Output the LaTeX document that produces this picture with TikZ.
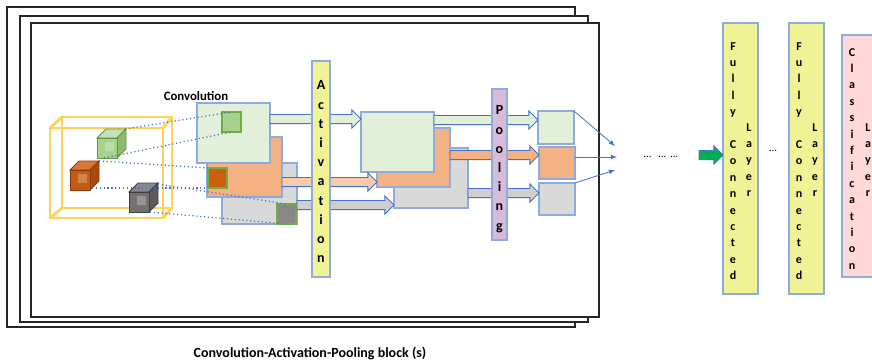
\documentclass[tikz,border=0pt]{standalone}
\usepackage{fontspec}
\setmainfont{Carlito}
\usetikzlibrary{calc}
\usetikzlibrary{fit}

\definecolor{mapedge}{RGB}{143,170,220}
\definecolor{arrowedge}{RGB}{68,114,196}
\definecolor{gmapfill}{RGB}{226,240,217}
\definecolor{omapfill}{RGB}{244,177,131}
\definecolor{oarrowfill}{RGB}{248,203,173}
\definecolor{rmapfill}{RGB}{217,217,217}
\definecolor{rarrowfill}{RGB}{208,206,206}
\definecolor{actfill}{RGB}{240,242,150}
\definecolor{poolfill}{RGB}{214,187,219}
\definecolor{classfill}{RGB}{255,217,217}
\definecolor{fcarrowfill}{RGB}{0,176,80}
\definecolor{wire}{RGB}{255,210,90}
\definecolor{kernedge}{RGB}{112,173,71}
% cube faces
\definecolor{gcubefront}{RGB}{169,209,142}
\definecolor{gcubetop}{RGB}{197,224,180}
\definecolor{gcubeside}{RGB}{141,186,112}
\definecolor{gcubeedge}{RGB}{96,150,62}
\definecolor{ocubefront}{RGB}{197,90,17}
\definecolor{ocubetop}{RGB}{217,119,58}
\definecolor{ocubeside}{RGB}{168,74,12}
\definecolor{ocubeedge}{RGB}{139,58,8}
\definecolor{rcubefront}{RGB}{118,113,113}
\definecolor{rcubetop}{RGB}{140,136,136}
\definecolor{rcubeside}{RGB}{94,90,90}
\definecolor{rcubeedge}{RGB}{63,63,63}

\newcommand{\smallcube}[3]{%
  \draw[draw=#3cubeedge, fill=#3cubetop, line width=0.7pt] (#1,#2) -- ++(9,-9) -- ++(20,0) -- ++(-9,9) -- cycle;
  \draw[draw=#3cubeedge, fill=#3cubeside, line width=0.7pt] (#1+20,#2) -- ++(9,-9) -- ++(0,20) -- ++(-9,9) -- cycle;
  \draw[draw=#3cubeedge, fill=#3cubefront, line width=0.7pt] (#1,#2) rectangle ++(20,20);
  \fill[white, opacity=0.25] (#1+8,#2+4) rectangle ++(9,9);
}
\newcommand{\blockarrow}[3]{%
  \draw[draw=arrowedge, line width=0.7pt, fill=#1] let \p1=#2, \p2=#3 in
    (\x1,\y1-3.4pt) -- (\x2-6.8pt,\y1-3.4pt) -- (\x2-6.8pt,\y1-6.8pt) -- (\x2,\y1)
    -- (\x2-6.8pt,\y1+6.8pt) -- (\x2-6.8pt,\y1+3.4pt) -- (\x1,\y1+3.4pt) -- cycle;
}

\begin{document}
\begin{tikzpicture}[x=0.75pt, y=-0.75pt,
    frame/.style={draw=black!85, line width=1.1pt, fill=white},
    wirecube/.style={draw=wire, line width=2.2pt},
    fmap/.style={draw=mapedge, line width=0.9pt, inner sep=0pt, outer sep=0pt},
    kern/.style={draw=kernedge, line width=0.8pt, inner sep=0pt, outer sep=0pt},
    bar/.style={draw=mapedge, line width=0.9pt, inner sep=0pt, outer sep=0pt},
    vtext/.style={inner sep=0pt, anchor=north, align=center, font=\bfseries\fontsize{10.5}{14.4}\selectfont},
    fctext/.style={vtext, font=\bfseries\fontsize{9}{12.3}\selectfont},
    kline/.style={draw=arrowedge, dotted, line width=0.9pt},
    thinarrow/.style={draw=arrowedge, line width=0.6pt, -latex}]
    \useasboundingbox (0,0) rectangle (872,362);
    \clip (0,0) rectangle (872,362);

    \draw[frame] (7,7) rectangle (575,327);
    \draw[frame] (20,16) rectangle (588,322);
    \draw[frame] (31,23) rectangle (599,317);

    \draw[wirecube] (62,117) rectangle (172,208);
    \draw[wirecube] (50,128) -- (62,117) (163,128) -- (172,117) (163,218) -- (172,208) (50,218) -- (62,208);
    \draw[wirecube] (50,128) rectangle (163,218);
    \smallcube{97}{138}{g}
    \smallcube{70}{170}{o}
    \smallcube{129}{192}{r}
    \coordinate (gcubetop) at (125,129);
    \coordinate (gcubebot) at (104,158);
    \coordinate (ocubetop) at (99,161);
    \coordinate (ocubebot) at (92,188);
    \coordinate (rcubetop) at (158,184);
    \coordinate (rcubebot) at (150,212);

    \node[font=\bfseries\fontsize{9.6}{11}\selectfont] (convlabel) at (196,96) {Convolution};
    \node[fmap, fill=rmapfill, fit={(222,163) (297,224)}] (rconv) {};
    \node[fmap, fill=omapfill, fit={(207,137) (282,197)}] (oconv) {};
    \node[fmap, fill=gmapfill, fit={(197,103) (270,163)}] (gconv) {};
    \node[kern, fill=gcubefront, fit={(222,112) (241,132)}] (gker) {};
    \node[kern, fill=ocubefront!90!orange, fit={(208,168) (227,188)}] (oker) {};
    \node[kern, fill=rcubefront!85!white, fit={(277,204) (296,224)}] (rker) {};

    \draw[kline] (gcubetop) -- (gker.north);
    \draw[kline] (gcubebot) -- (gker.south);
    \draw[kline] (ocubetop) -- (oker.north west);
    \draw[kline] (ocubebot) -- (oker.south west);
    \draw[kline] (rcubetop) -- (rker.north);
    \draw[kline] (rcubebot) -- (rker.south);

    \node[fmap, fill=rmapfill, fit={(394,148) (468,208)}] (ract) {};
    \node[fmap, fill=omapfill, fit={(377,128) (450,187)}] (oact) {};
    \node[fmap, fill=gmapfill, fit={(361,112) (434,172)}] (gact) {};

    \blockarrow{gmapfill}{(gconv.east |- 0,119)}{(gact.west |- 0,119)}
    \blockarrow{oarrowfill}{(oconv.east |- 0,182)}{(oact.west |- 0,182)}
    \blockarrow{rarrowfill}{(rconv.east |- 0,205)}{(ract.west |- 0,205)}

    \node[fmap, fill=gmapfill, fit={(538,111) (574,144)}] (gpool) {};
    \node[fmap, fill=omapfill, fit={(539,147) (575,179)}] (opool) {};
    \node[fmap, fill=rmapfill, fit={(539,183) (575,215)}] (rpool) {};

    \blockarrow{gmapfill}{(gact.east |- 0,120)}{(gpool.west |- 0,120)}
    \blockarrow{omapfill}{(oact.east |- 0,155)}{(opool.west |- 0,155)}
    \blockarrow{rarrowfill}{(ract.east |- 0,193)}{(rpool.west |- 0,193)}

    \node[bar, fill=actfill, fit={(312,61) (330,277)}] (act) {};
    \node[vtext] (acttext) at (321,80.5) {A\\c\\t\\i\\v\\a\\t\\i\\o\\n};
    \node[bar, fill=poolfill, fit={(492,89) (507,240)}] (pool) {};
    \node[vtext] (pooltext) at (499.5,105.5) {P\\o\\o\\l\\i\\n\\g};

    \coordinate (gtip) at (615,146);
    \coordinate (otip) at (617,157);
    \coordinate (rtip) at (615,170);
    \draw[thinarrow] (gpool.north east) -- (gtip);
    \draw[thinarrow] (opool.east |- otip) -- (otip);
    \draw[thinarrow] (rpool.north east) -- (rtip);

    \node[font=\fontsize{8}{9}\selectfont] (dots) at (661,157) {…\ \ \ …\ \ …};

    \node[bar, fill=actfill, fit={(723,23) (758,294)}] (fc1) {};
    \node[fctext] (fc1a) at (733,42) {F\\u\\l\\l\\y\\\mbox{}\\C\\o\\n\\n\\e\\c\\t\\e\\d};
    \node[fctext] (fc1b) at (749,123) {L\\a\\y\\e\\r};
    \node[bar, fill=actfill, fit={(789,23) (824,294)}] (fc2) {};
    \node[fctext] (fc2a) at (799,42) {F\\u\\l\\l\\y\\\mbox{}\\C\\o\\n\\n\\e\\c\\t\\e\\d};
    \node[fctext] (fc2b) at (815,123) {L\\a\\y\\e\\r};
    \node[font=\fontsize{8}{9}\selectfont] (fcdots) at (773,151) {…};
    \node[bar, fill=classfill, fit={(842,35) (885,277)}] (cls) {};
    \node[fctext] (clsa) at (852,48) {C\\l\\a\\s\\s\\i\\f\\i\\c\\a\\t\\i\\o\\n};
    \node[fctext] (clsb) at (868,123) {L\\a\\y\\e\\r};

    \coordinate (fcin) at (699,155);
    \blockarrow{fcarrowfill}{(fcin)}{(fc1.west |- fcin)}

    \node[font=\bfseries\fontsize{10.5}{12}\selectfont] (caption) at (310,353) {Convolution-Activation-Pooling block (s)};
\end{tikzpicture}
\end{document}
